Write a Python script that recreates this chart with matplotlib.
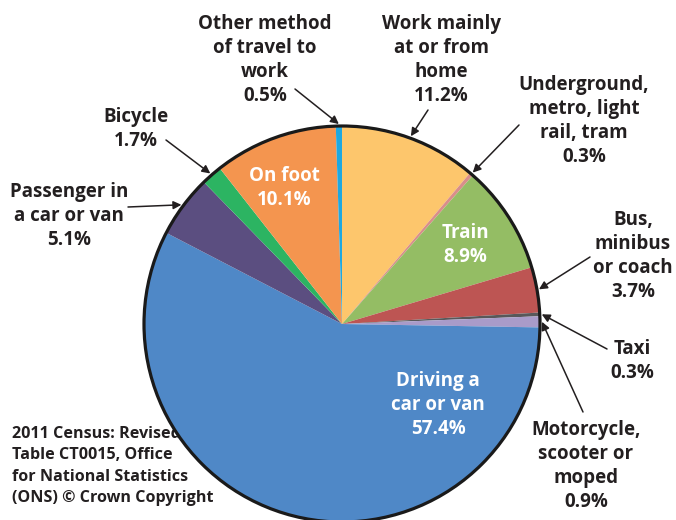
import matplotlib
matplotlib.use("Agg")
import matplotlib.pyplot as plt
import numpy as np

# Moyen de transport pour aller au travail (recensement 2011)
categories = ["Work mainly\nat or from\nhome", "Underground,\nmetro, light\nrail, tram",
              "Train", "Bus,\nminibus\nor coach", "Taxi", "Motorcycle,\nscooter or\nmoped",
              "Driving a\ncar or van", "Passenger in\na car or van", "Bicycle",
              "On foot", "Other method\nof travel to\nwork"]
valeurs = [11.2, 0.3, 8.9, 3.7, 0.3, 0.9, 57.4, 5.1, 1.7, 10.1, 0.5]
couleurs = ["#fdc66c", "#d98e8a", "#94bd64", "#bd5553", "#58585a", "#a99bc9",
            "#4f88c7", "#5b4e80", "#2cb462", "#f4954f", "#1ea8e0"]

# labels a l'interieur (blanc) ou a l'exterieur avec fleche
interieur = {2: (465, 245), 6: (438, 405), 9: (284, 188)}
exterieur = {0: (441, 60), 1: (584, 121), 3: (633, 256), 4: (632, 361),
             5: (586, 466), 7: (69, 216), 8: (136, 129), 10: (265, 60)}
# point de depart des fleches (pixels)
queues = {0: (428, 110), 1: (519, 125), 3: (590, 257), 4: (607, 349),
          5: (583, 412), 7: (128, 207), 8: (166, 140), 10: (295, 89)}

W, H = 676, 520
cx, cy, R = 342, 324, 198

def px(x, y):
    return (x - cx) / R, (cy - y) / R

texte = "#231f20"
plt.rcParams['font.family'] = ['Open Sans', 'DejaVu Sans']

fig = plt.figure(figsize=(W / 100, H / 100), dpi=100)
ax = fig.add_axes([0, 0, 1, 1])

wedges, _ = ax.pie(valeurs, colors=couleurs, startangle=90, counterclock=False,
                   radius=1.0, center=(0, 0), frame=True,
                   wedgeprops=dict(linewidth=0, zorder=2))
ax.set_xlim(-cx / R, (W - cx) / R)
ax.set_ylim(-(H - cy) / R, cy / R)
ax.axis('off')
ax.add_patch(plt.Circle((0, 0), 1.0, fill=False, lw=2.3, color="#1a1a1a", zorder=5))

for i, (x, y) in interieur.items():
    ax.text(*px(x, y), f"{categories[i]}\n{valeurs[i]}%", color="white",
            fontsize=13.5, fontweight='bold', ha='center', va='center',
            linespacing=1.28, zorder=6)

for i, (x, y) in exterieur.items():
    w = wedges[i]
    ang = np.deg2rad((w.theta1 + w.theta2) / 2)
    pointe = (1.01 * np.cos(ang), 1.01 * np.sin(ang))
    ax.text(*px(x, y), f"{categories[i]}\n{valeurs[i]}%", color=texte,
            fontsize=13.5, fontweight='bold', ha='center', va='center',
            linespacing=1.28)
    ax.annotate("", xy=pointe, xytext=px(*queues[i]),
                arrowprops=dict(arrowstyle='-|>', lw=1.1, color=texte,
                                mutation_scale=12, shrinkA=0, shrinkB=0),
                zorder=7)

# source sous le camembert (le bord du disque la recouvre)
ax.text(*px(12, 466), "2011 Census: Revised\nTable CT0015, Office\nfor National Statistics\n(ONS) \u00a9 Crown Copyright",
        color=texte, fontsize=11.6, fontweight='bold', ha='left', va='center',
        linespacing=1.43, zorder=1)

fig.savefig("out.png", dpi=100)
